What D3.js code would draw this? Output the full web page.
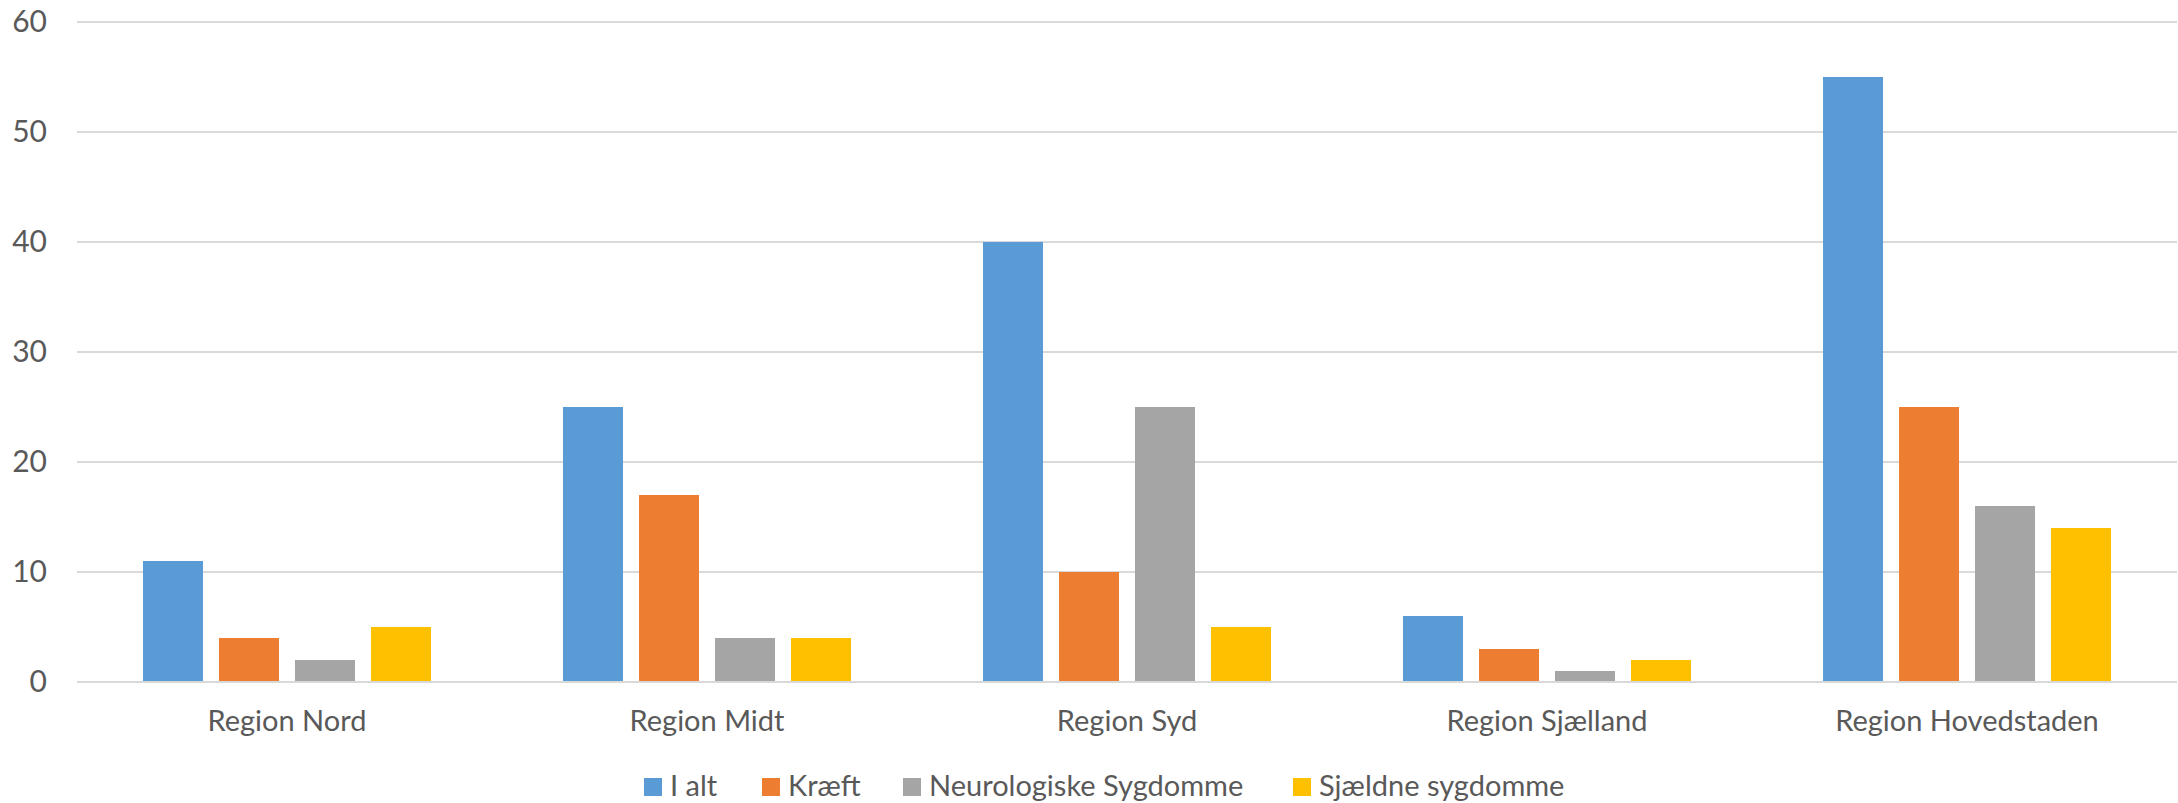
<!DOCTYPE html>
<html>
<head>
<meta charset="utf-8">
<script src="https://cdn.jsdelivr.net/npm/d3@7"></script>
<style>
  body { margin: 0; background: #fff; }
  text { font-family: Lato, "Open Sans", sans-serif; fill: #595959; }
</style>
</head>
<body>
<svg></svg>
<script>
// data
const regions = ['Region Nord', 'Region Midt', 'Region Syd', 'Region Sjælland', 'Region Hovedstaden'];
const seriesNames = ['I alt', 'Kræft', 'Neurologiske Sygdomme', 'Sjældne sygdomme'];
const iAlt = [11, 25, 40, 6, 55];
const kraeft = [4, 17, 10, 3, 25];
const neuro = [2, 4, 25, 1, 16];
const sjaeldne = [5, 4, 5, 2, 14];
const yTicks = [0, 10, 20, 30, 40, 50, 60];
const colors = ['#5B9BD5', '#ED7D31', '#A5A5A5', '#FFC000'];

const seriesValues = [iAlt, kraeft, neuro, sjaeldne];

// configuration of svg/plot area
let config = { 'svg': {}, 'margin': {}, 'plot': {} };
config.svg.width = 2178;
config.svg.height = 803;
config.margin.top = 22;
config.margin.left = 77;
config.margin.right = 1;
config.margin.bottom = 121;
config.plot.width = config.svg.width - config.margin.left - config.margin.right;
config.plot.height = config.svg.height - config.margin.top - config.margin.bottom;

let svg = d3.select('body').select('svg');
svg.attr('width', config.svg.width);
svg.attr('height', config.svg.height);

let plot = svg.append('g');
plot.attr('transform', `translate(${config.margin.left},${config.margin.top})`);

// scales
let y = d3.scaleLinear().domain([0, 60]).range([config.plot.height, 0]);
let x0 = d3.scaleBand().domain(regions).range([0, config.plot.width])
  .paddingInner(0.3143).paddingOuter(0.1571);
let x1 = d3.scaleBand().domain(d3.range(seriesNames.length)).range([0, x0.bandwidth()])
  .paddingInner(0.2105).paddingOuter(0);

// gridlines
plot.append('g').selectAll('line').data(yTicks).join('line')
  .attr('x1', 0).attr('x2', config.plot.width)
  .attr('y1', d => y(d)).attr('y2', d => y(d))
  .attr('stroke', '#d9d9d9').attr('stroke-width', 2);

// y labels
let yAxis = d3.axisLeft(y).tickValues(yTicks).tickSize(0).tickPadding(30);
let yg = plot.append('g').call(yAxis);
yg.select('.domain').remove();
yg.selectAll('text').attr('font-size', 30).attr('fill', '#595959')
  .style('font-family', 'Lato, "Open Sans", sans-serif');

// bars
let groups = plot.append('g').selectAll('g').data(regions).join('g')
  .attr('transform', d => `translate(${x0(d)},0)`);
groups.selectAll('rect')
  .data((d, i) => seriesValues.map((s, k) => ({ k: k, v: s[i] })))
  .join('rect')
  .attr('x', d => x1(d.k))
  .attr('width', x1.bandwidth())
  .attr('y', d => y(d.v))
  .attr('height', d => y(0) - y(d.v) - 1)
  .attr('fill', d => colors[d.k]);

// x labels
let xAxis = d3.axisBottom(x0).tickSize(0).tickPadding(28);
let xg = plot.append('g').attr('transform', `translate(0,${config.plot.height})`).call(xAxis);
xg.select('.domain').remove();
xg.selectAll('text').attr('font-size', 29).attr('fill', '#595959')
  .style('font-family', 'Lato, "Open Sans", sans-serif');

// legend
let legendX = [644, 762, 903, 1293];
let legend = svg.append('g').selectAll('g').data(seriesNames).join('g')
  .attr('transform', (d, i) => `translate(${legendX[i]},778)`);
legend.append('rect').attr('width', 18).attr('height', 18)
  .attr('fill', (d, i) => colors[i]);
legend.append('text').attr('x', 26).attr('y', 18).attr('font-size', 29)
  .text(d => d);
</script>
</body>
</html>
